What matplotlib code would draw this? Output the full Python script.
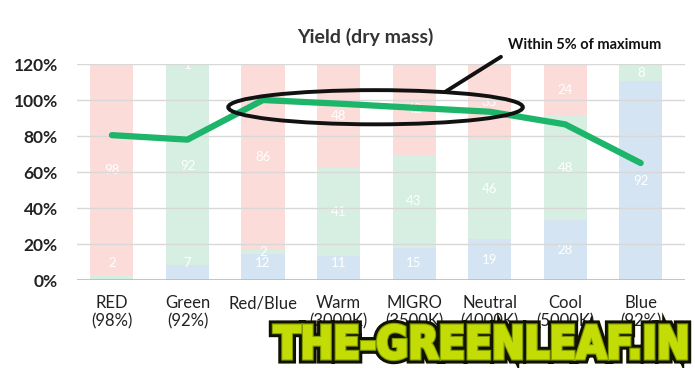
import matplotlib.pyplot as plt
import matplotlib.patheffects as pe
from matplotlib.patches import Ellipse, PathPatch
from matplotlib.textpath import TextPath
from matplotlib.font_manager import FontProperties
from matplotlib.transforms import Affine2D, IdentityTransform
import numpy as np

plt.rcParams['font.family'] = ['Lato', 'DejaVu Sans']

# данные
categories = ["RED\n(98%)", "Green\n(92%)", "Red/Blue", "Warm\n(3000K)",
              "MIGRO\n(3500K)", "Neutral\n(4000K)", "Cool\n(5000K)", "Blue\n(92%)"]
blue = [0, 7, 12, 11, 15, 19, 28, 92]
green = [2, 92, 2, 41, 43, 46, 48, 8]
red = [98, 1, 86, 48, 42, 35, 24, 0]
yield_pct = [80.5, 78, 100, 98, 95.7, 93.5, 86.5, 65]

fig = plt.figure(figsize=(6.95, 3.68), dpi=100)
ax = fig.add_axes([0.111, 0.239, 0.875, 0.587])
ax2 = ax.twinx()

x = np.arange(len(categories))
w = 0.57
c_blue, c_green, c_red = "#d5e4f2", "#d6efe2", "#fcdcd9"

ax.bar(x, blue, w, color=c_blue, zorder=1)
ax.bar(x, green, w, bottom=blue, color=c_green, zorder=1)
ax.bar(x, red, w, bottom=np.array(blue) + np.array(green), color=c_red, zorder=1)
ax.set_ylim(0, 100)
ax.set_xlim(-0.46, 7.59)

# подписи сегментов
for i in range(len(x)):
    base = 0
    for val in (blue[i], green[i], red[i]):
        if val > 0:
            yc = max(base + val / 2, 8)
            ax.text(x[i], yc, str(val), ha="center", va="center", color="white",
                    fontsize=9.5, zorder=2)
        base += val

ax.set_yticks([])
for s in ax.spines.values():
    s.set_visible(False)
ax.set_xticks(x)
ax.set_xticklabels(categories, fontsize=12, color="#222222", linespacing=1.15)
ax.tick_params(axis="x", length=0, pad=11)

# линия урожайности
ax2.set_ylim(0, 120)
ax2.yaxis.tick_left()
ax2.set_yticks(range(0, 121, 20))
ax2.set_yticklabels([f"{v}%" for v in range(0, 121, 20)], fontsize=12.5,
                    fontweight="bold", color="#222222")
ax2.tick_params(axis="y", length=0, pad=14)
ax2.grid(axis="y", color="#d8d8d8", lw=1)
ax2.set_axisbelow(True)
for s in ax2.spines.values():
    s.set_visible(False)
ax2.axhline(0, color="#bbbbbb", lw=1.2, zorder=1)
ax2.plot(x, yield_pct, color="#1db56a", lw=4.5, solid_capstyle="round",
         solid_joinstyle="round", zorder=3)

# аннотация
ax2.add_patch(Ellipse((3.49, 96), 3.9, 19, fill=False, ec="#111111", lw=2.8,
                      zorder=4, clip_on=False))
ax2.plot([4.41, 5.15], [104.5, 124], color="#111111", lw=2.8, zorder=4,
         clip_on=False, solid_capstyle="round")
ax2.text(5.25, 130.5, "Within 5% of maximum", fontsize=10.5, fontweight="bold",
         color="#111111", va="center", ha="left", clip_on=False)

fig.text(0.525, 0.9, "Yield (dry mass)", fontsize=14, fontweight="bold",
         color="#333333", ha="center", va="center")

# водяной знак (сжатый по ширине, утолщённый обводкой)
tp = TextPath((0, 0), "THE-GREENLEAF.IN", size=1,
              prop=FontProperties(family="DejaVu Sans", weight="bold"))
ext = tp.get_extents()
x0, y0, x1, y1 = 274, 9, 686, 43
tr = (Affine2D().translate(-ext.x0, -ext.y0)
      .scale((x1 - x0) / ext.width, (y1 - y0) / ext.height)
      .translate(x0, y0))
wm = PathPatch(tr.transform_path(tp), transform=IdentityTransform(),
               facecolor="#c4dc06", edgecolor="#c4dc06", lw=0, zorder=10)
wm.set_path_effects([
    pe.withStroke(linewidth=7.5, foreground="#111100"),
    pe.withStroke(linewidth=3.2, foreground="#7e9a00"),
    pe.withStroke(linewidth=1.6, foreground="#c4dc06"),
    pe.Normal(),
])
fig.patches.append(wm)

plt.savefig("out.png", dpi=100)
